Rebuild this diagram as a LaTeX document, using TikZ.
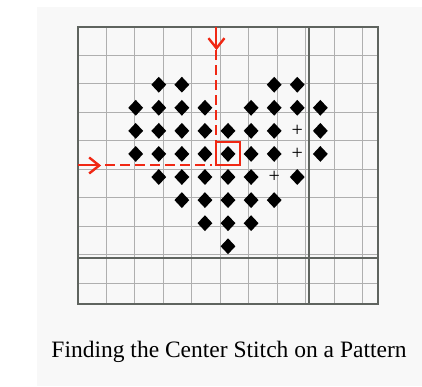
\documentclass[tikz,border=0pt]{standalone}
\usepackage{fontspec}
\setmainfont{Liberation Serif}
\usetikzlibrary{shapes.geometric,arrows.meta}
\definecolor{paper}{RGB}{248,248,248}
\definecolor{markred}{RGB}{240,40,20}
\definecolor{thinrule}{RGB}{175,175,175}
\definecolor{thickrule}{RGB}{95,100,95}

\begin{document}
\begin{tikzpicture}[
        x=1pt,y=-1pt,
        stitch/.style={diamond,fill=black,inner sep=0pt,minimum width=15pt,minimum height=16pt},
        plain/.style={inner sep=0pt,font=\fontsize{20}{20}\selectfont},
        guide/.style={draw=markred,line width=2pt},
        tip/.style={-{Straight Barb[length=10pt,width=16pt,line width=2.4pt]}}
      ]
      \useasboundingbox (0,0) rectangle (422,386);
      \fill[paper] (37,7) rectangle (422,386);
      \begin{scope}[shift={(78,27)},x=23.08pt,y=-23.08pt]
        \draw[thinrule,line width=1pt] (0,0) grid (13,12);
        \draw[thickrule,line width=1.5pt] (10,0) -- (10,12) (0,10) -- (13,10);
        \draw[thickrule,line width=1.5pt] (0,0) rectangle (13,12);
        \foreach \r/\cols in {2/{3,4,8,9},3/{2,3,4,5,7,8,9,10},4/{2,3,4,5,6,7,8,10},
            5/{2,3,4,5,6,7,8,10},6/{3,4,5,6,7,9},7/{4,5,6,7,8},8/{5,6,7},9/{6}}
          \foreach \c in \cols
            \node (d-\r-\c) [stitch] at (\c+0.5,\r+0.5) {};
        \node (p1) [plain] at (9.5,4.5) {+};
        \node (p2) [plain] at (9.5,5.5) {+};
        \node (p3) [plain] at (8.5,6.5) {+};
        \coordinate (top) at (6,0);
        \coordinate (downtip) at (6,1);
        \coordinate (left) at (0,6);
        \coordinate (righttip) at (1,6);
        \coordinate (centre) at (6,5);
        \coordinate (corner) at (6,6);
        \draw[guide,tip] (top) -- (downtip);
        \draw[guide,tip] (left) -- (righttip);
        \draw[guide,dashed,dash pattern=on 10pt off 5pt] (downtip) -- (centre);
        \draw[guide,dashed,dash pattern=on 10pt off 5pt] ([xshift=4pt]righttip) -- ([xshift=-4pt]corner);
        \draw[guide] (centre) rectangle (7,6);
      \end{scope}
      \node (caption) at (229,352) {\fontsize{23.5}{28}\selectfont Finding the Center Stitch on a Pattern};
    \end{tikzpicture}
\end{document}
